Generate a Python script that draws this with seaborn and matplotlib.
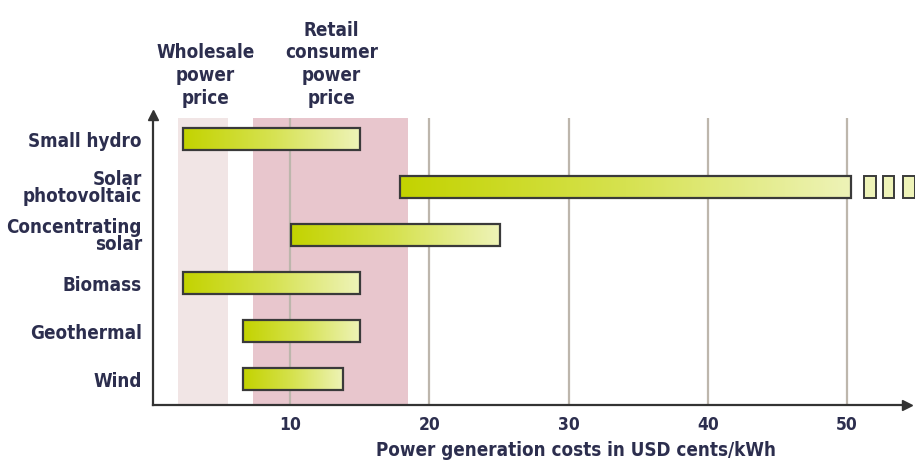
import matplotlib
matplotlib.use("Agg")
import matplotlib.pyplot as plt
import seaborn as sns
import numpy as np
import pandas as pd
from matplotlib.colors import LinearSegmentedColormap
from matplotlib.patches import Rectangle

# data (USD cents/kWh)
technologies = ["Small hydro", "Solar\nphotovoltaic", "Concentrating\nsolar",
                "Biomass", "Geothermal", "Wind"]
cost_low = [2.3, 17.9, 10.1, 2.3, 6.6, 6.6]
cost_high = [15.0, 50.3, 25.1, 15.0, 15.0, 13.8]
# small boxes after the solar bar showing the range continues
continuation_starts = [51.2, 52.55, 54.0]
continuation_ends = [52.1, 53.4, 54.9]

wholesale_range = [1.95, 5.55]
retail_range = [7.35, 18.45]
x_ticks = [10, 20, 30, 40, 50]

sns.set_theme(style="white")
plt.rcParams['font.family'] = ['Liberation Sans Narrow', 'DejaVu Sans']
plt.rcParams['font.stretch'] = 'condensed'

text_color = "#2c2e4e"
grid_color = "#bdb6ac"

df = pd.DataFrame({"tech": technologies, "low": cost_low, "high": cost_high})

fig = plt.figure(figsize=(9.15, 4.62), dpi=100)
ax = fig.add_axes([153 / 915, 57 / 462, 754 / 915, 287 / 462])

# price bands
ax.axvspan(*wholesale_range, color="#f1e5e5", zorder=0, lw=0)
ax.axvspan(*retail_range, color="#e8c6cd", zorder=0, lw=0)
for t in x_ticks:
    ax.axvline(t, color=grid_color, lw=1.6, zorder=1)

n_before = len(ax.patches)
sns.barplot(data=df, x="high", y="tech", orient="y", width=0.46,
            color="#c3d300", edgecolor="#3a3a3a", linewidth=1.6, ax=ax, zorder=3)
bars = list(ax.patches)[n_before:]

cmap = LinearSegmentedColormap.from_list("bar", ["#c3d300", "#d6e250", "#eef3b8"])
grad = np.linspace(0, 1, 256).reshape(1, -1)

for bar, lo, hi in zip(bars, df["low"], df["high"]):
    bar.set_x(lo)
    bar.set_width(hi - lo)
    bar.set_facecolor("none")
    y0 = bar.get_y()
    h = bar.get_height()
    im = ax.imshow(grad, cmap=cmap, aspect="auto", extent=(lo, hi, y0 + h, y0),
                   zorder=2, interpolation="bilinear")
    im.set_clip_path(bar)

solar_bar = bars[1]
for s, e in zip(continuation_starts, continuation_ends):
    r = Rectangle((s, solar_bar.get_y()), e - s, solar_bar.get_height(),
                  facecolor="#eef3b8", edgecolor="#3a3a3a", lw=1.4,
                  zorder=3, clip_on=False)
    ax.add_patch(r)

ax.set_xlim(0.17, 54.3)
ax.set_ylim(5.54, -0.44)
ax.set_xticks(x_ticks)
ax.set_xticklabels([str(t) for t in x_ticks], fontsize=12.5, fontweight="bold",
                   color=text_color)
ax.set_yticks(range(len(technologies)))
ax.set_yticklabels(technologies, fontsize=13.5, fontweight="bold",
                   color=text_color, linespacing=0.85)
ax.tick_params(axis="both", length=0, pad=8)
ax.set_ylabel("")
ax.set_xlabel("Power generation costs in USD cents/kWh", fontsize=13.5,
              fontweight="bold", color=text_color)
ax.xaxis.set_label_coords(0.561, -0.125)

for side in ["top", "right"]:
    ax.spines[side].set_visible(False)
for side in ["left", "bottom"]:
    ax.spines[side].set_color("#333333")
    ax.spines[side].set_linewidth(1.6)

# axis arrows
ax.plot([1.0], [0], marker=">", color="#333333", markersize=7,
        transform=ax.transAxes, clip_on=False)
ax.plot([0], [1.01], marker="^", color="#333333", markersize=7,
        transform=ax.transAxes, clip_on=False)

# band labels
ax.text(np.mean(wholesale_range) + 0.2, 1.035, "Wholesale\npower\nprice",
        transform=ax.get_xaxis_transform(), ha="center", va="bottom",
        fontsize=13.5, fontweight="bold", color=text_color, linespacing=1.25)
ax.text(np.mean(retail_range) + 0.1, 1.035, "Retail\nconsumer\npower\nprice",
        transform=ax.get_xaxis_transform(), ha="center", va="bottom",
        fontsize=13.5, fontweight="bold", color=text_color, linespacing=1.25)

fig.savefig("out.png", dpi=100, facecolor="white")
